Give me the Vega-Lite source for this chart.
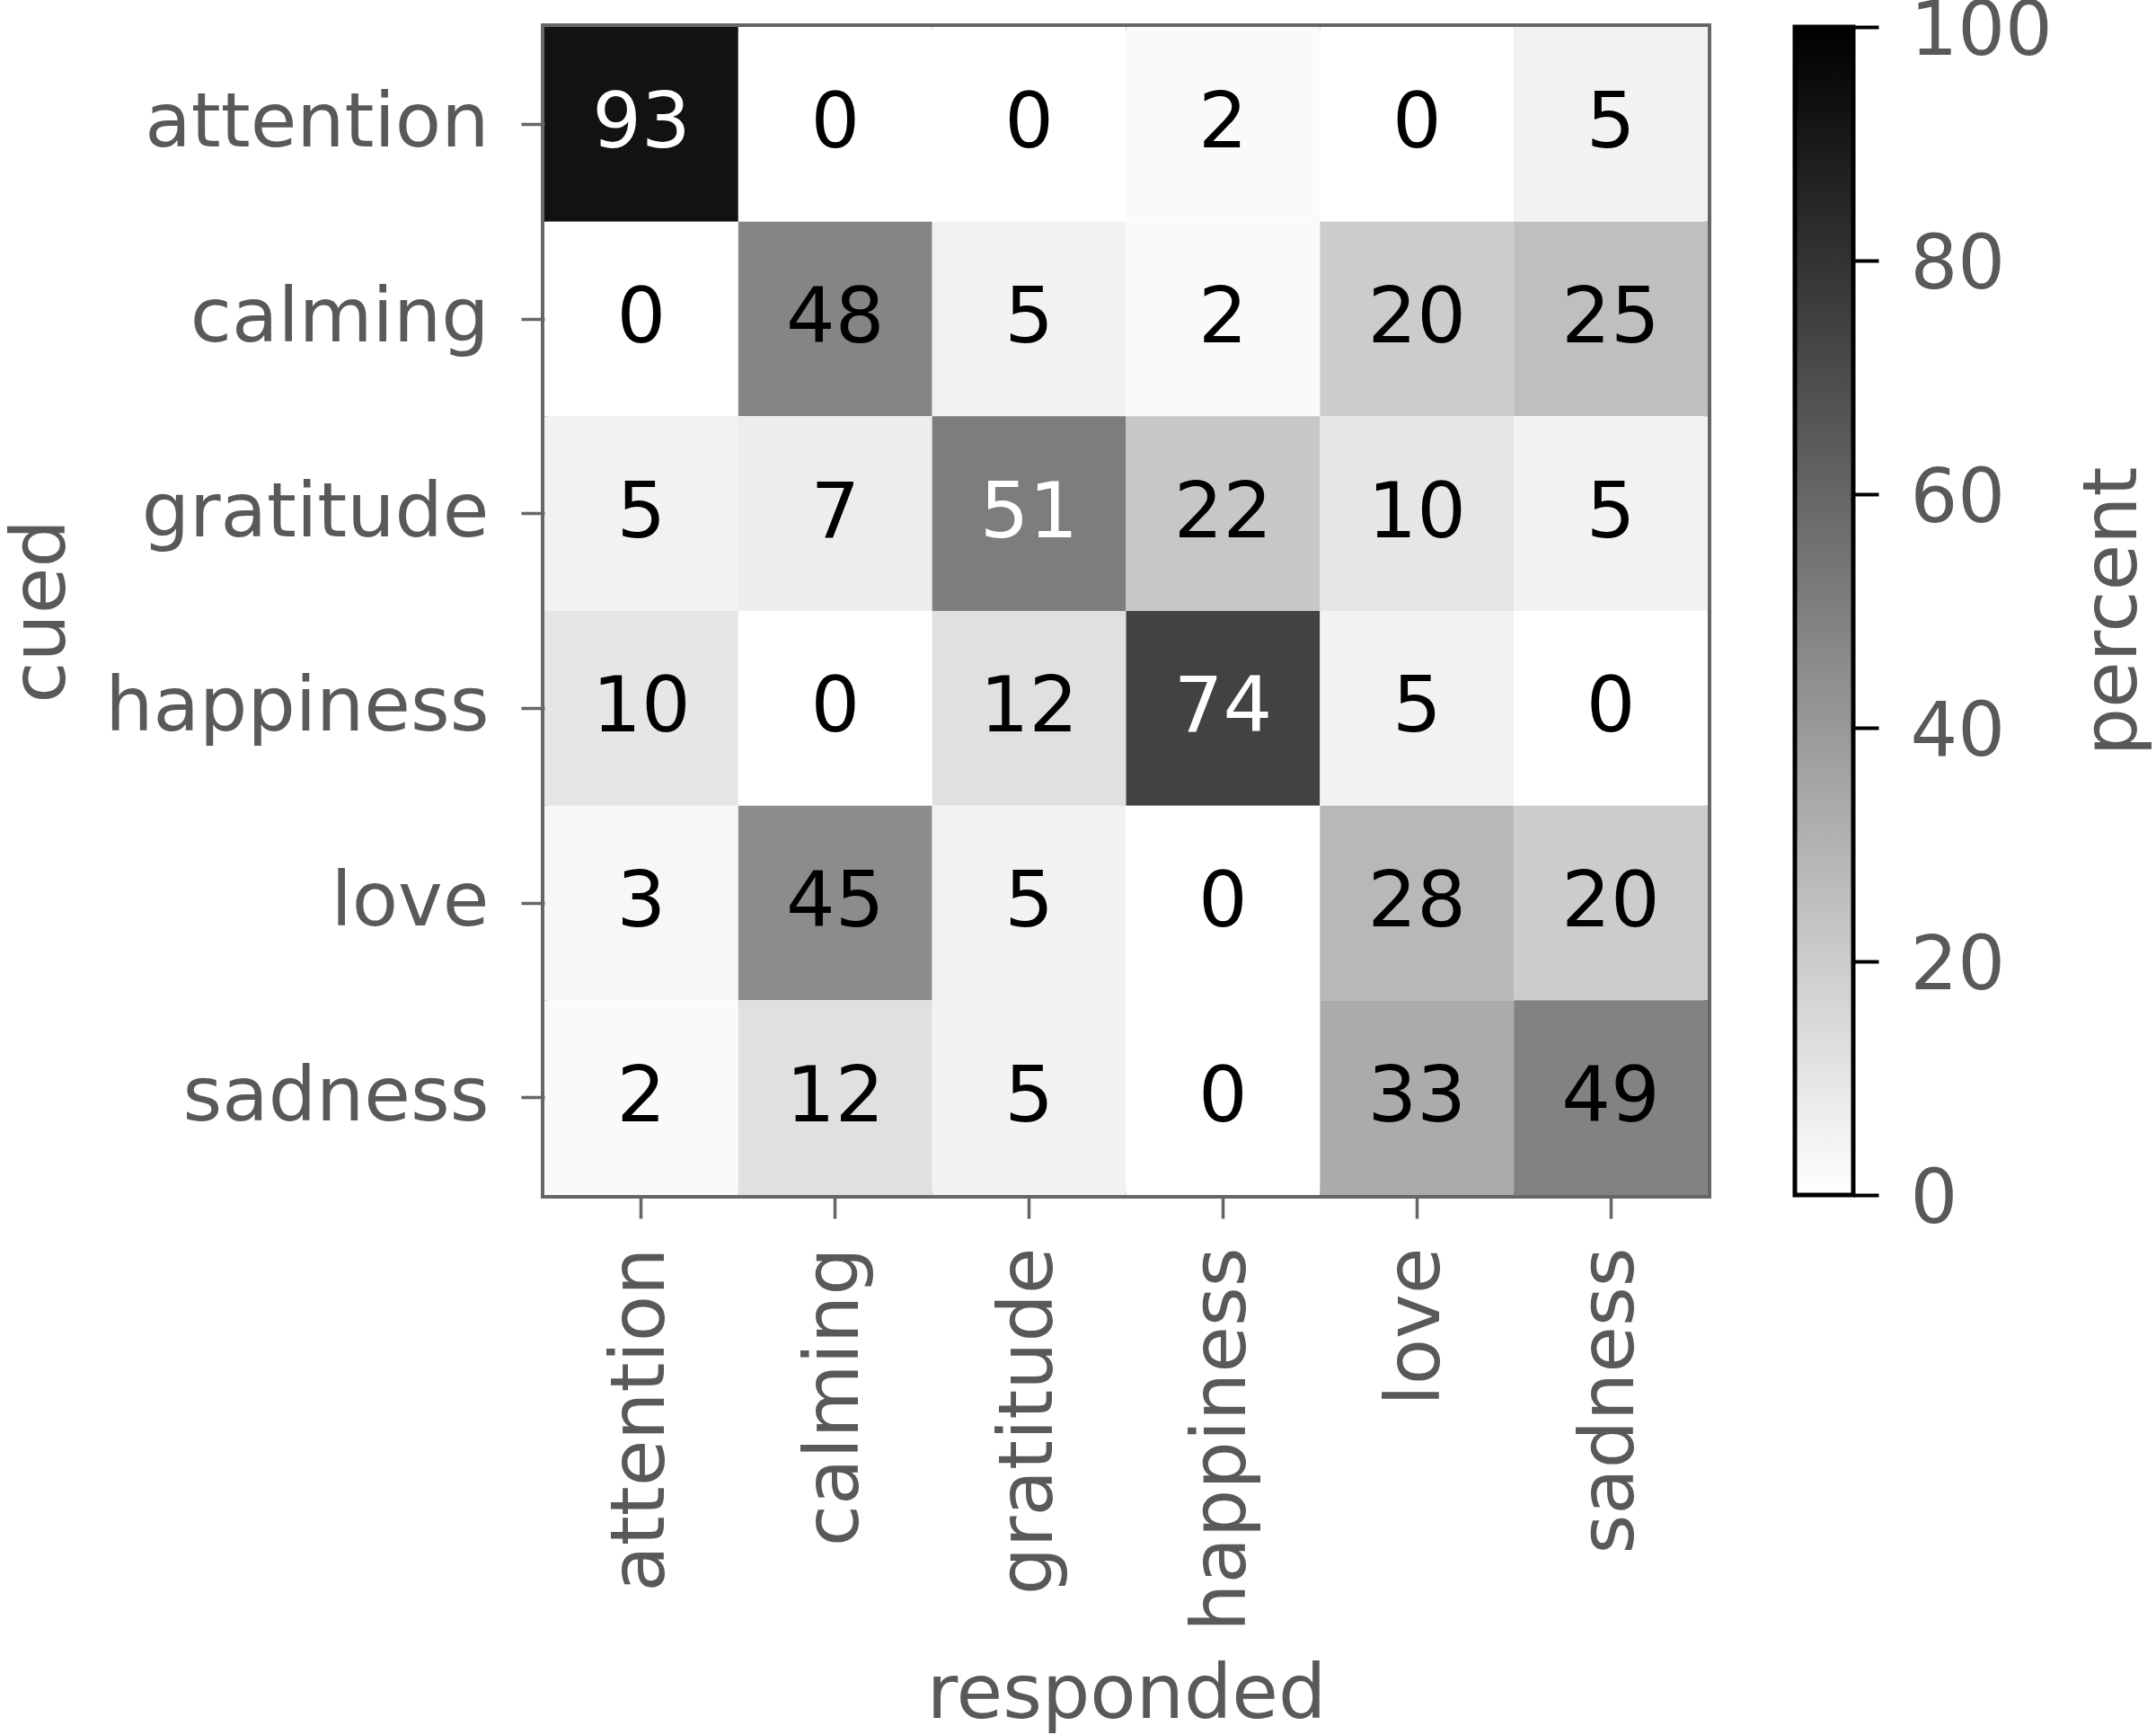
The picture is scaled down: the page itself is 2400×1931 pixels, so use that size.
{
  "$schema": "https://vega.github.io/schema/vega-lite/v6.json",
  "autosize": {"type": "none"},
  "padding": {"left": 606, "top": 30, "right": 1794, "bottom": 1901},
  "background": "white",
  "datasets": {
    "cm": [
      {"cued": "attention", "responded": "attention", "percent": 93},
      {"cued": "attention", "responded": "calming", "percent": 0},
      {"cued": "attention", "responded": "gratitude", "percent": 0},
      {"cued": "attention", "responded": "happiness", "percent": 2},
      {"cued": "attention", "responded": "love", "percent": 0},
      {"cued": "attention", "responded": "sadness", "percent": 5},
      {"cued": "calming", "responded": "attention", "percent": 0},
      {"cued": "calming", "responded": "calming", "percent": 48},
      {"cued": "calming", "responded": "gratitude", "percent": 5},
      {"cued": "calming", "responded": "happiness", "percent": 2},
      {"cued": "calming", "responded": "love", "percent": 20},
      {"cued": "calming", "responded": "sadness", "percent": 25},
      {"cued": "gratitude", "responded": "attention", "percent": 5},
      {"cued": "gratitude", "responded": "calming", "percent": 7},
      {"cued": "gratitude", "responded": "gratitude", "percent": 51},
      {"cued": "gratitude", "responded": "happiness", "percent": 22},
      {"cued": "gratitude", "responded": "love", "percent": 10},
      {"cued": "gratitude", "responded": "sadness", "percent": 5},
      {"cued": "happiness", "responded": "attention", "percent": 10},
      {"cued": "happiness", "responded": "calming", "percent": 0},
      {"cued": "happiness", "responded": "gratitude", "percent": 12},
      {"cued": "happiness", "responded": "happiness", "percent": 74},
      {"cued": "happiness", "responded": "love", "percent": 5},
      {"cued": "happiness", "responded": "sadness", "percent": 0},
      {"cued": "love", "responded": "attention", "percent": 3},
      {"cued": "love", "responded": "calming", "percent": 45},
      {"cued": "love", "responded": "gratitude", "percent": 5},
      {"cued": "love", "responded": "happiness", "percent": 0},
      {"cued": "love", "responded": "love", "percent": 28},
      {"cued": "love", "responded": "sadness", "percent": 20},
      {"cued": "sadness", "responded": "attention", "percent": 2},
      {"cued": "sadness", "responded": "calming", "percent": 12},
      {"cued": "sadness", "responded": "gratitude", "percent": 5},
      {"cued": "sadness", "responded": "happiness", "percent": 0},
      {"cued": "sadness", "responded": "love", "percent": 33},
      {"cued": "sadness", "responded": "sadness", "percent": 49}
    ],
    "bar": [
      {"lo": 0, "hi": 100}
    ]
  },
  "spacing": 97,
  "bounds": "flush",
  "hconcat": [
    {
      "width": 1295,
      "height": 1300,
      "data": {"name": "cm"},
      "view": {"stroke": "#666666", "strokeWidth": 8},
      "encoding": {
        "x": {
          "field": "responded", "type": "nominal",
          "sort": ["attention", "calming", "gratitude", "happiness", "love", "sadness"],
          "scale": {"paddingInner": 0, "paddingOuter": 0},
          "axis": {"title": "responded", "labelAngle": -90, "labelPadding": 32, "labelAlign": "right", "labelBaseline": "middle",
                   "titleY": 581, "titleBaseline": "alphabetic"}
        },
        "y": {
          "field": "cued", "type": "nominal",
          "sort": ["attention", "calming", "gratitude", "happiness", "love", "sadness"],
          "scale": {"paddingInner": 0, "paddingOuter": 0},
          "axis": {"title": "cued", "labelPadding": 36, "titleX": -535, "titleAngle": 270, "titleBaseline": "alphabetic", "titleAlign": "center"}
        }
      },
      "layer": [
        {
          "mark": {"type": "rect"},
          "encoding": {
            "fill": {
              "field": "percent", "type": "quantitative",
              "scale": {"domain": [0, 100], "range": ["#ffffff", "#000000"], "interpolate": "rgb"},
              "legend": null
            }
          }
        },
        {
          "mark": {"type": "text", "fontSize": 86, "baseline": "middle", "align": "center", "font": "DejaVu Sans"},
          "encoding": {
            "text": {"field": "percent", "type": "quantitative"},
            "color": {"condition": {"test": "datum.percent > 50", "value": "#ffffff"}, "value": "#000000"}
          }
        }
      ]
    },
    {
      "width": 65,
      "height": 1300,
      "data": {"name": "bar"},
      "view": {"stroke": null},
      "mark": {
        "type": "rect",
        "stroke": "#000000",
        "strokeWidth": 5,
        "fill": {
          "gradient": "linear", "x1": 0, "y1": 1, "x2": 0, "y2": 0,
          "stops": [{"offset": 0, "color": "#ffffff"}, {"offset": 1, "color": "#000000"}]
        }
      },
      "encoding": {
        "y": {
          "field": "lo", "type": "quantitative",
          "scale": {"domain": [0, 100], "nice": false, "zero": true},
          "axis": {
            "orient": "right", "title": "percent", "titleAngle": 270,
            "titleX": 314, "titleBaseline": "alphabetic", "titleAlign": "center",
            "values": [0, 20, 40, 60, 80, 100],
            "domain": false, "tickColor": "#000000", "tickWidth": 4, "tickSize": 28,
            "labelPadding": 35, "labelBaseline": "middle", "labelOffset": 5, "labelFontSize": 83
          }
        },
        "y2": {"field": "hi"}
      }
    }
  ],
  "config": {
    "font": "DejaVu Sans",
    "axis": {
      "labelFont": "DejaVu Sans",
      "titleFont": "DejaVu Sans",
      "labelFontSize": 84,
      "titleFontSize": 84,
      "labelColor": "#595959",
      "titleColor": "#595959",
      "titleFontWeight": "normal",
      "tickColor": "#666666",
      "tickWidth": 3.5,
      "tickSize": 26,
      "domain": false,
      "grid": false,
      "labelOverlap": false,
      "labelLimit": 0
    }
  }
}
